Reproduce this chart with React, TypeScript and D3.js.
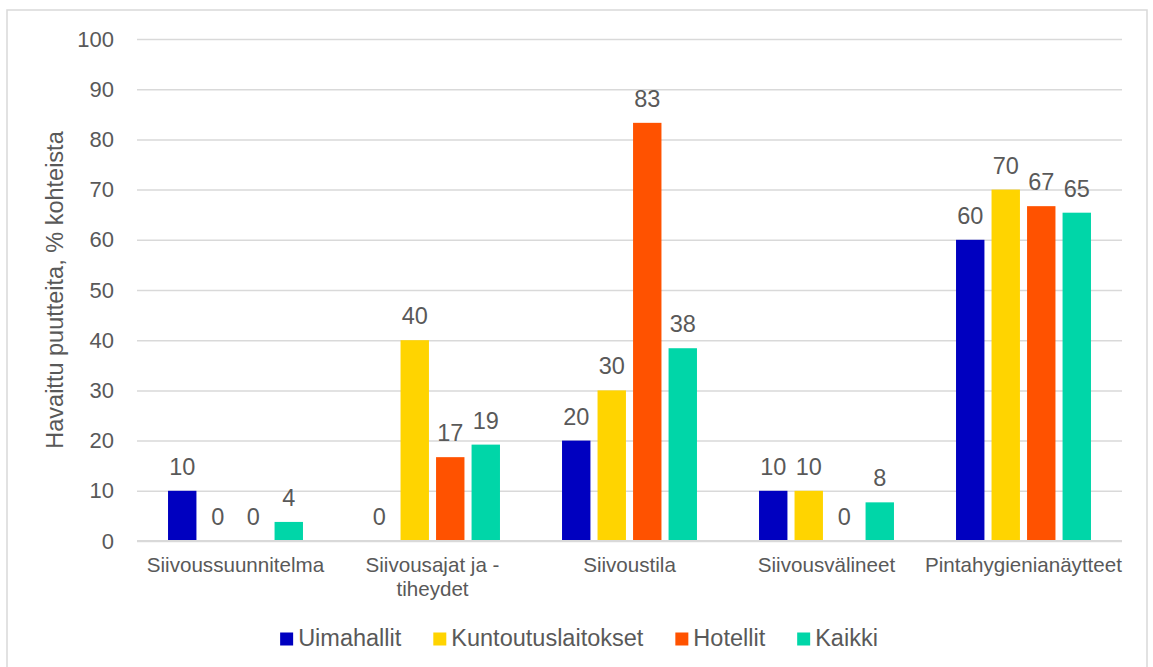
import React, { useEffect, useRef } from 'react'
import * as d3 from 'd3'

// categories on the x axis, already broken into lines as in the original
const categories = [
  'Siivoussuunnitelma',
  'Siivousajat ja -tiheydet',
  'Siivoustila',
  'Siivousvälineet',
  'Pintahygienianäytteet',
]
const categoryLines = [
  ['Siivoussuunnitelma'],
  ['Siivousajat ja -', 'tiheydet'],
  ['Siivoustila'],
  ['Siivousvälineet'],
  ['Pintahygienianäytteet'],
]

const seriesNames = ['Uimahallit', 'Kuntoutuslaitokset', 'Hotellit', 'Kaikki']
const seriesColors = ['#0000c0', '#ffd400', '#ff5200', '#00d6a8']

// % of sites with observed shortcomings
const uimahallit = [10, 0, 20, 10, 60]
const kuntoutuslaitokset = [0, 40, 30, 10, 70]
const hotellit = [0, 16.7, 83.3, 0, 66.7]
const kaikki = [3.8, 19.2, 38.4, 7.7, 65.4]

const yTicks = [0, 10, 20, 30, 40, 50, 60, 70, 80, 90, 100]
const yTitle = 'Havaittu puutteita, % kohteista'

const W = 1153
const H = 667
const margin = { top: 39, right: 31, bottom: 126, left: 137 }
const FONT = "'Liberation Sans', Arial, sans-serif"
const TEXT = '#595959'
const GRID = '#d9d9d9'

// text width for the legend layout
const measure = (text: string, size: number) => {
  const ctx = document.createElement('canvas').getContext('2d')
  if (!ctx) return text.length * size * 0.5
  ctx.font = `${size}px ${FONT}`
  return ctx.measureText(text).width
}

export default function App() {
  const ref = useRef<SVGSVGElement>(null)

  useEffect(() => {
    const svg = d3.select(ref.current)
    svg.selectAll('*').remove()

    const values = [uimahallit, kuntoutuslaitokset, hotellit, kaikki]
    const rows = categories.map((c, i) => ({
      category: c,
      bars: seriesNames.map((s, j) => ({ series: s, value: values[j][i], color: seriesColors[j] })),
    }))

    const x0 = d3
      .scaleBand()
      .domain(categories)
      .range([margin.left, W - margin.right])
      .paddingInner(0.315)
      .paddingOuter(0.1575)

    const x1 = d3
      .scaleBand()
      .domain(seriesNames)
      .range([0, x0.bandwidth()])
      .paddingInner(0.2)

    const y = d3
      .scaleLinear()
      .domain([0, 100])
      .range([H - margin.bottom, margin.top])

    // chart frame
    svg
      .append('rect')
      .attr('x', 7)
      .attr('y', 10)
      .attr('width', 1140)
      .attr('height', 680)
      .attr('fill', 'white')
      .attr('stroke', GRID)
      .attr('stroke-width', 1.5)

    // y axis with gridlines
    const yAxis = svg
      .append('g')
      .attr('transform', `translate(${margin.left},0)`)
      .call(
        d3
          .axisLeft(y)
          .tickValues(yTicks)
          .tickSize(-(W - margin.left - margin.right))
          .tickPadding(23)
          .tickFormat(d3.format('d'))
      )
    yAxis.select('.domain').remove()
    yAxis.selectAll('.tick line').attr('stroke', GRID).attr('stroke-width', 1.5)
    yAxis
      .selectAll('.tick text')
      .attr('fill', TEXT)
      .attr('font-family', FONT)
      .attr('font-size', 22)

    // y title
    svg
      .append('text')
      .attr('transform', `translate(${55},${(margin.top + H - margin.bottom) / 2}) rotate(-90)`)
      .attr('text-anchor', 'middle')
      .attr('dy', '0.35em')
      .attr('fill', TEXT)
      .attr('font-family', FONT)
      .attr('font-size', 23.5)
      .text(yTitle)

    // bars
    const groups = svg
      .append('g')
      .selectAll('g')
      .data(rows)
      .join('g')
      .attr('transform', d => `translate(${x0(d.category)},0)`)

    groups
      .selectAll('rect')
      .data(d => d.bars)
      .join('rect')
      .attr('x', d => x1(d.series) as number)
      .attr('y', d => y(d.value))
      .attr('width', x1.bandwidth())
      .attr('height', d => y(0) - y(d.value))
      .attr('fill', d => d.color)

    groups
      .selectAll('text')
      .data(d => d.bars)
      .join('text')
      .attr('x', d => (x1(d.series) as number) + x1.bandwidth() / 2)
      .attr('y', d => y(d.value) - 16)
      .attr('text-anchor', 'middle')
      .attr('fill', TEXT)
      .attr('font-family', FONT)
      .attr('font-size', 23.5)
      .text(d => d3.format('.0f')(d.value))

    // baseline
    svg
      .append('line')
      .attr('x1', margin.left)
      .attr('x2', W - margin.right)
      .attr('y1', y(0))
      .attr('y2', y(0))
      .attr('stroke', GRID)
      .attr('stroke-width', 2)

    // category labels
    const cat = svg
      .append('g')
      .selectAll('text')
      .data(categories)
      .join('text')
      .attr('x', d => (x0(d) as number) + x0.bandwidth() / 2)
      .attr('y', y(0) + 31)
      .attr('text-anchor', 'middle')
      .attr('fill', TEXT)
      .attr('font-family', FONT)
      .attr('font-size', 20.6)
    cat
      .selectAll('tspan')
      .data((d, i) => categoryLines[i])
      .join('tspan')
      .attr('x', function () {
        return (this.parentNode as SVGTextElement).getAttribute('x')
      })
      .attr('dy', (d, i) => (i === 0 ? 0 : 24))
      .text(d => d)

    // legend
    const legendSize = 23.5
    const sw = 13
    const items = seriesNames.map((s, i) => ({ name: s, color: seriesColors[i], w: measure(s, legendSize) }))
    const total = d3.sum(items, d => sw + 5 + d.w) + 32 * (items.length - 1)
    let lx = 579 - total / 2
    const legend = svg.append('g')
    items.forEach(it => {
      legend
        .append('rect')
        .attr('x', lx)
        .attr('y', 632.5)
        .attr('width', sw)
        .attr('height', sw)
        .attr('fill', it.color)
      legend
        .append('text')
        .attr('x', lx + sw + 5)
        .attr('y', 646)
        .attr('fill', TEXT)
        .attr('font-family', FONT)
        .attr('font-size', legendSize)
        .text(it.name)
      lx += sw + 5 + it.w + 32
    })
  }, [])

  return (
    <svg
      ref={ref}
      width={W}
      height={H}
      style={{ position: 'absolute', left: 0, top: 0, background: 'white' }}
    />
  )
}
